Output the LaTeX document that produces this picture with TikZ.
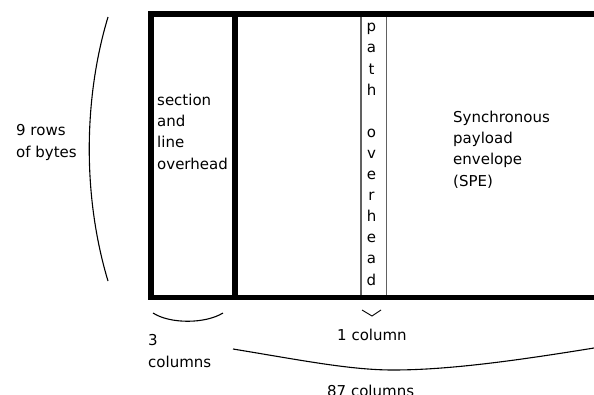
\documentclass[tikz,border=0pt]{standalone}
\usepackage{fontspec}
\setmainfont{DejaVu Sans}
\begin{document}
\begin{tikzpicture}[x=1pt,y=-1pt,
  lbl/.style={inner sep=0pt,anchor=base west,align=left,font=\fontsize{15}{21.1}\selectfont},
  frame/.style={line width=5.6pt,black},
  thin/.style={line width=1.8pt,color=black!62},
  bracel/.style={line width=1.1pt,black}]
\useasboundingbox (0,0) rectangle (594,394);
% frame
\coordinate (tl) at (150.8,13.8);
\coordinate (tr) at (600,13.8);
\coordinate (bl) at (150.8,297.5);
\coordinate (br) at (600,297.5);
\coordinate (dt) at (234.8,13.8);
\coordinate (db) at (234.8,297.5);
\coordinate (pt1) at (361,13.8);
\coordinate (pb1) at (361,297.5);
\coordinate (pt2) at (386.5,13.8);
\coordinate (pb2) at (386.5,297.5);
\draw[thin] (pt1) -- (pb1) (pt2) -- (pb2);
\draw[frame] (tr) -- (tl) -- (bl) -- (br);
\draw[frame] (dt) -- (db);
% labels (anchor = baseline of last line)
\node[lbl] (rows) at (16,157) {9 rows\\of bytes};
\node[lbl] (soh) at (157,169) {section\\and\\line\\overhead};
\node[lbl,anchor=base,align=center] (poh) at (371.5,285) {p\\a\\t\\h\\\mbox{}\\o\\v\\e\\r\\h\\e\\a\\d};
\node[lbl] (spe) at (453,186) {Synchronous\\payload\\envelope\\(SPE)};
\node[lbl] (three) at (148,367) {3\\columns};
\node[lbl] (one) at (337,340) {1 column};
\node[lbl] (eightyseven) at (327,396) {87 columns};
% braces
\coordinate (lb1) at (108,17);
\coordinate (lb2) at (108,281);
\draw[bracel] (lb1) .. controls (83,100) and (83,198) .. (lb2);
\coordinate (sb1) at (153,313);
\coordinate (sb2) at (223,313);
\draw[bracel] (sb1) .. controls (170,324) and (205,324) .. (sb2);
\coordinate (ch1) at (362,310);
\coordinate (ch2) at (372,316);
\coordinate (ch3) at (381,310);
\draw[line width=0.9pt] (ch1) -- (ch2) -- (ch3);
\coordinate (bb1) at (233,349);
\coordinate (bb2) at (393,370);
\coordinate (bb3) at (594,348);
\draw[bracel] (bb1) .. controls (300,360) and (350,370) .. (bb2) .. controls (450,370) and (520,360) .. (bb3);
\end{tikzpicture}
\end{document}
